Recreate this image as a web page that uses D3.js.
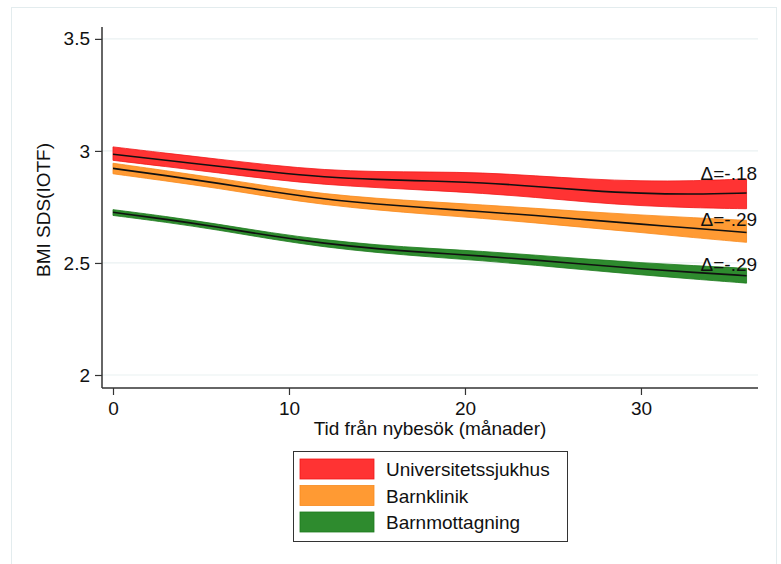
<!DOCTYPE html>
<html>
<head>
<meta charset="utf-8">
<script src="https://cdn.jsdelivr.net/npm/d3@7"></script>
<style>
  body { margin: 0; background: #fff; }
  svg { display: block; font-family: Arial, "Liberation Sans", sans-serif; }
</style>
</head>
<body>
<div id="chart"></div>
<script>
// months since first visit
const months = [0, 3, 6, 9, 12, 15, 18, 21, 24, 27, 30, 33, 36];

const groups = ["Universitetssjukhus", "Barnklinik", "Barnmottagning"];
const deltas = ["Δ=-.18", "Δ=-.29", "Δ=-.29"];
// value the delta label sits on (baseline), in BMI SDS units
const deltaAt = [2.87, 2.665, 2.466];

const uniMean  = [2.985, 2.958, 2.932, 2.905, 2.883, 2.872, 2.866, 2.858, 2.842, 2.823, 2.810, 2.806, 2.812];
const uniHigh  = [3.018, 2.990, 2.963, 2.936, 2.915, 2.907, 2.906, 2.903, 2.889, 2.874, 2.865, 2.866, 2.875];
const uniLow   = [2.958, 2.930, 2.902, 2.873, 2.850, 2.836, 2.824, 2.811, 2.793, 2.771, 2.755, 2.746, 2.742];

const barnMean = [2.922, 2.890, 2.856, 2.818, 2.785, 2.762, 2.745, 2.729, 2.712, 2.692, 2.673, 2.655, 2.636];
const barnHigh = [2.945, 2.912, 2.878, 2.840, 2.808, 2.788, 2.773, 2.759, 2.744, 2.728, 2.714, 2.702, 2.690];
const barnLow  = [2.898, 2.866, 2.833, 2.794, 2.760, 2.736, 2.717, 2.699, 2.679, 2.657, 2.636, 2.613, 2.592];

const mottMean = [2.726, 2.695, 2.660, 2.620, 2.587, 2.563, 2.546, 2.531, 2.513, 2.493, 2.474, 2.458, 2.443];
const mottHigh = [2.738, 2.708, 2.673, 2.634, 2.603, 2.580, 2.565, 2.552, 2.535, 2.517, 2.501, 2.488, 2.476];
const mottLow  = [2.712, 2.682, 2.647, 2.606, 2.571, 2.546, 2.527, 2.510, 2.490, 2.468, 2.447, 2.428, 2.410];

const yTicks = [2, 2.5, 3, 3.5];
const xTicks = [0, 10, 20, 30];

const series = [
  { name: groups[0], mean: uniMean, hi: uniHigh, lo: uniLow, delta: deltas[0], at: deltaAt[0], fill: "#ff3333", stroke: "#f01818" },
  { name: groups[1], mean: barnMean, hi: barnHigh, lo: barnLow, delta: deltas[1], at: deltaAt[1], fill: "#ff9a33", stroke: "#f7891c" },
  { name: groups[2], mean: mottMean, hi: mottHigh, lo: mottLow, delta: deltas[2], at: deltaAt[2], fill: "#2e8b2e", stroke: "#1c7a1c" }
];

const width = 781, height = 564;
const plot = { left: 102, right: 758, top: 27, bottom: 388 };
const FONT = 19;

const svg = d3.select("#chart")
  .append("svg")
  .attr("width", width)
  .attr("height", height);

// outer frame
svg.append("rect")
  .attr("x", 11.5).attr("y", 7.5)
  .attr("width", 765).attr("height", 570)
  .attr("fill", "none")
  .attr("stroke", "#e3ecee")
  .attr("stroke-width", 1);

const x = d3.scaleLinear()
  .domain([-0.625, 36.65])
  .range([plot.left, plot.right]);

const y = d3.scaleLinear()
  .domain([1.942, 3.553])
  .range([plot.bottom, plot.top]);

// gridlines
svg.append("g")
  .selectAll("line")
  .data(yTicks)
  .join("line")
  .attr("x1", plot.left)
  .attr("x2", plot.right)
  .attr("y1", d => y(d))
  .attr("y2", d => y(d))
  .attr("stroke", "#eaf1f2")
  .attr("stroke-width", 1.2);

// bands + mean lines
const area = d3.area()
  .x((d, i) => x(months[i]))
  .y0(d => y(d[0]))
  .y1(d => y(d[1]))
  .curve(d3.curveBasis);

const line = d3.line()
  .x((d, i) => x(months[i]))
  .y(d => y(d))
  .curve(d3.curveBasis);

series.forEach(s => {
  const band = s.lo.map((v, i) => [v, s.hi[i]]);
  svg.append("path")
    .attr("d", area(band))
    .attr("fill", s.fill)
    .attr("stroke", s.stroke)
    .attr("stroke-width", 0.8);
});

series.forEach(s => {
  svg.append("path")
    .attr("d", line(s.mean))
    .attr("fill", "none")
    .attr("stroke", "#111")
    .attr("stroke-width", 1.6);
});

// delta labels
series.forEach(s => {
  svg.append("text")
    .attr("x", x(36.6))
    .attr("y", y(s.at))
    .attr("text-anchor", "end")
    .attr("font-size", FONT)
    .attr("fill", "#111")
    .text(s.delta);
});

// axes
const yAxis = svg.append("g")
  .attr("transform", `translate(${plot.left},0)`)
  .call(d3.axisLeft(y).tickValues(yTicks).tickSize(7).tickPadding(5).tickFormat(d3.format("")));
yAxis.select(".domain").attr("d", `M0,${plot.top}V${plot.bottom}`);

const xAxis = svg.append("g")
  .attr("transform", `translate(0,${plot.bottom})`)
  .call(d3.axisBottom(x).tickValues(xTicks).tickSize(7).tickPadding(7));
xAxis.select(".domain").attr("d", `M${plot.left},0H${plot.right}`);

svg.selectAll(".domain").attr("stroke", "#333").attr("stroke-width", 1.5);
svg.selectAll(".tick line").attr("stroke", "#333").attr("stroke-width", 1.2);
svg.selectAll(".tick text")
  .attr("font-size", FONT)
  .attr("fill", "#111")
  .attr("font-family", "Arial, 'Liberation Sans', sans-serif");

// axis titles
svg.append("text")
  .attr("transform", `translate(50,210) rotate(-90)`)
  .attr("text-anchor", "middle")
  .attr("font-size", FONT)
  .attr("fill", "#111")
  .text("BMI SDS(IOTF)");

svg.append("text")
  .attr("x", 430)
  .attr("y", 435)
  .attr("text-anchor", "middle")
  .attr("font-size", FONT)
  .attr("fill", "#111")
  .text("Tid från nybesök (månader)");

// legend
const legend = svg.append("g").attr("transform", "translate(293,451)");
legend.append("rect")
  .attr("x", 0.5).attr("y", 0.5)
  .attr("width", 274).attr("height", 90)
  .attr("fill", "#fff")
  .attr("stroke", "#333")
  .attr("stroke-width", 1);

series.forEach((s, i) => {
  const row = legend.append("g").attr("transform", `translate(7, ${8 + i * 26.5})`);
  row.append("rect")
    .attr("width", 74).attr("height", 20)
    .attr("fill", s.fill)
    .attr("stroke", s.stroke)
    .attr("stroke-width", 0.8);
  row.append("text")
    .attr("x", 86)
    .attr("y", 17)
    .attr("font-size", FONT)
    .attr("fill", "#111")
    .text(s.name);
});
</script>
</body>
</html>
